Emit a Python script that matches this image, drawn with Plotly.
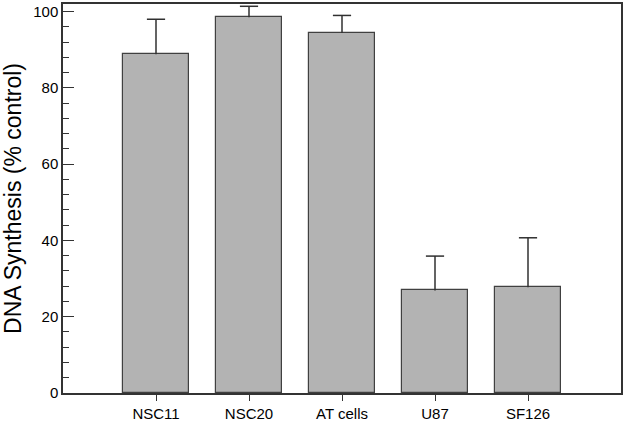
import plotly.graph_objects as go

categories = ["NSC11", "NSC20", "AT cells", "U87", "SF126"]
values = [88.8, 98.5, 94.4, 26.9, 27.7]
errors = [9.2, 2.9, 4.6, 9.0, 13.0]
y_ticks = [0, 20, 40, 60, 80, 100]

xs = list(range(len(categories)))
tops = [v + e for v, e in zip(values, errors)]

fig = go.Figure()
fig.add_trace(go.Bar(
    x=xs, y=values,
    width=0.71,
    marker=dict(color="#b3b3b3", line=dict(color="#404040", width=1.2)),
))
# upward-only error bars: vertical stems
stem_x, stem_y = [], []
for x, v, t in zip(xs, values, tops):
    stem_x += [x, x, None]
    stem_y += [v, t, None]
fig.add_trace(go.Scatter(x=stem_x, y=stem_y, mode="lines",
                         line=dict(color="#303030", width=1.5), hoverinfo="skip"))
# caps
fig.add_trace(go.Scatter(x=xs, y=tops, mode="markers",
                         marker=dict(symbol="line-ew", size=13,
                                     line=dict(color="#303030", width=1.5)),
                         hoverinfo="skip"))

fig.update_layout(
    width=625, height=424,
    margin=dict(l=63, r=2, t=3, b=30),
    plot_bgcolor="white", paper_bgcolor="white",
    font=dict(family="Liberation Sans, Arial", color="black"),
    showlegend=False,
    bargap=0,
)
fig.update_xaxes(
    range=[-1, 5],
    tickmode="array", tickvals=xs, ticktext=categories,
    ticks="outside", ticklen=6, tickwidth=1.2, tickcolor="#333",
    showline=True, linecolor="#333", linewidth=1.5, mirror=True,
    showgrid=False, zeroline=False,
    tickfont=dict(size=15),
)
fig.update_yaxes(
    range=[0, 102],
    tickmode="array", tickvals=y_ticks,
    ticks="inside", ticklen=11, tickwidth=1.2, tickcolor="#333",
    minor=dict(dtick=4, ticks="inside", ticklen=6, tickwidth=1.2, tickcolor="#333", showgrid=False),
    showline=True, linecolor="#333", linewidth=1.5, mirror=True,
    showgrid=False, zeroline=False,
    tickfont=dict(size=15),
    title=dict(text="DNA Synthesis (% control)", font=dict(size=23), standoff=10),
)
fig.write_html("out.html", config={"displayModeBar": False},
               post_script="document.body.style.margin='0';")
